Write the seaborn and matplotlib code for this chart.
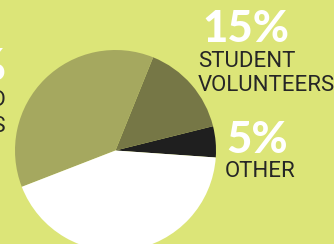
import matplotlib
matplotlib.use("Agg")
import matplotlib.pyplot as plt
import seaborn as sns

# Data
categories = ["OTHER", "STUDENT VOLUNTEERS", "TRAINED VOLUNTEERS", "STAFF"]
shares = [5, 15, 37, 43]
label_pct = ["5%", "15%", "37%"]
label_txt = ["OTHER", "STUDENT\nVOLUNTEERS", "TRAINED\nEMPLOYEES"]

sns.set_theme(style="white")
plt.rcParams['font.family'] = ['Roboto', 'DejaVu Sans']

BG = "#dce578"
colors = ["#1f1f1f", "#767746", "#a5a85f", "#ffffff"]

W, H = 334, 244
fig = plt.figure(figsize=(W / 100, H / 100), dpi=100, facecolor=BG)
ax = fig.add_axes([0, 0, 1, 1])
ax.set_facecolor(BG)

ax.pie(shares, colors=colors, startangle=-4, counterclock=True,
       center=(115.5, H - 150.5), radius=100.5,
       wedgeprops=dict(linewidth=0))
ax.set_xlim(0, W)
ax.set_ylim(0, H)
ax.set_aspect("equal")
ax.axis("off")

pct_kw = dict(color="white", fontsize=31.5, family=["Lato", "DejaVu Sans"],
              fontweight="black", va="baseline")
txt_kw = dict(color="#262626", fontsize=16, family=["Roboto", "DejaVu Sans"],
              va="baseline")

# right labels
ax.text(202, H - 42, label_pct[1], ha="left", **pct_kw)
ax.text(198, H - 67, "STUDENT", ha="left", **txt_kw)
ax.text(198, H - 91, "VOLUNTEERS", ha="left", **txt_kw)
ax.text(226, H - 153, label_pct[0], ha="left", **pct_kw)
ax.text(225, H - 177, label_txt[0], ha="left", **txt_kw)

# left label (cropped by the figure edge, as in the reference)
ax.text(7, H - 80, label_pct[2], ha="right", **pct_kw)
ax.text(6, H - 106, "TRAINED", ha="right", **txt_kw)
ax.text(6, H - 132, "EMPLOYEES", ha="right", **txt_kw)

fig.savefig("out.png", dpi=100, facecolor=BG)
